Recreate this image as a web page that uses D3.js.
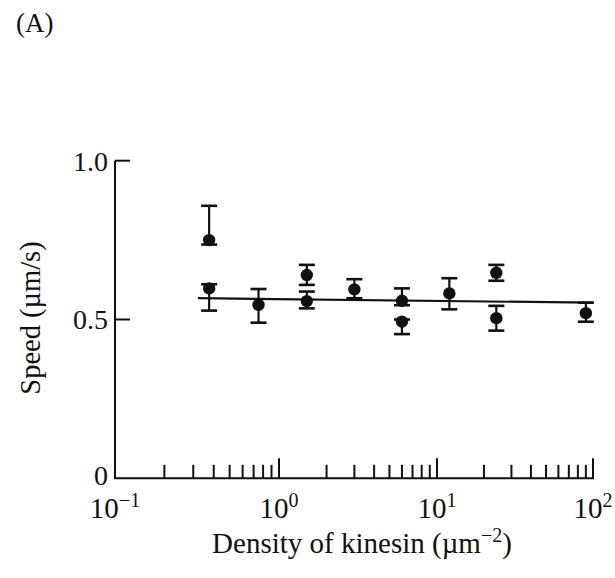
<!DOCTYPE html>
<html>
<head>
<meta charset="utf-8">
<script src="https://cdn.jsdelivr.net/npm/d3@7"></script>
<style>
  html, body { margin: 0; padding: 0; background: #fff; }
  svg { display: block; }
  text { font-family: "Liberation Serif", "DejaVu Serif", serif; fill: #111; }
</style>
</head>
<body>
<svg id="chart" width="615" height="578"></svg>
<script>
// ---- data ----
const density = [0.375, 0.375, 0.75, 1.5, 1.5, 3, 6, 6, 12, 24, 24, 90];
const speed   = [0.750, 0.598, 0.546, 0.640, 0.558, 0.595, 0.559, 0.493, 0.582, 0.647, 0.504, 0.520];
const errTop  = [0.858, 0.611, 0.596, 0.672, 0.588, 0.627, 0.598, 0.500, 0.630, 0.672, 0.543, 0.553];
const errBot  = [0.736, 0.528, 0.490, 0.609, 0.535, 0.567, 0.545, 0.454, 0.532, 0.622, 0.465, 0.493];
const fitX = [0.32, 100];
const fitY = [0.567, 0.553];
const xMajorTicks = [0.1, 1, 10, 100];
const xMajorExp = ["\u22121", "0", "1", "2"];
const xMinorTicks = [0.2,0.3,0.4,0.5,0.6,0.7,0.8,0.9, 2,3,4,5,6,7,8,9, 20,30,40,50,60,70,80,90];
const yTicks = [0, 0.5, 1.0];
const yTickLabels = ["0", "0.5", "1.0"];

const svg = d3.select("#chart");
const ink = "#111";

// scanned hand-drawn axis: decades are slightly uneven, so a piecewise log scale
const x = d3.scaleLog().domain([0.1, 1, 10, 100]).range([115, 279, 437, 593]);
const y = d3.scaleLinear().domain([0, 1]).range([478.3, 160.7]);

const g = svg.append("g");

// axes lines
g.append("line").attr("x1", x(0.1)).attr("x2", x(0.1)).attr("y1", y(1)).attr("y2", y(0) + 0.8)
  .attr("stroke", ink).attr("stroke-width", 2);
g.append("line").attr("x1", x(0.1)).attr("x2", x(100) + 1).attr("y1", y(0)).attr("y2", y(0))
  .attr("stroke", ink).attr("stroke-width", 2);

// y ticks (inward)
g.selectAll(".ytick").data(yTicks.filter(d => d > 0)).join("line")
  .attr("x1", x(0.1)).attr("x2", x(0.1) + 15)
  .attr("y1", d => y(d)).attr("y2", d => y(d))
  .attr("stroke", ink).attr("stroke-width", 2);

g.selectAll(".ylab").data(yTicks).join("text")
  .attr("x", 108).attr("y", d => y(d) - (d === 0 ? 3 : 0)).attr("dy", "0.35em")
  .attr("text-anchor", "end").attr("font-size", 28)
  .text((d, i) => yTickLabels[i]);

// x ticks (inward)
g.selectAll(".xminor").data(xMinorTicks).join("line")
  .attr("x1", d => x(d)).attr("x2", d => x(d))
  .attr("y1", y(0)).attr("y2", y(0) - 13.5)
  .attr("stroke", ink).attr("stroke-width", 2);
g.selectAll(".xmajor").data(xMajorTicks.slice(1)).join("line")
  .attr("x1", d => x(d)).attr("x2", d => x(d))
  .attr("y1", y(0)).attr("y2", y(0) - 20)
  .attr("stroke", ink).attr("stroke-width", 2);

const xl = g.selectAll(".xlab").data(xMajorTicks).join("text")
  .attr("x", d => x(d)).attr("y", 518)
  .attr("text-anchor", "middle").attr("font-size", 29);
xl.append("tspan").text("10");
xl.append("tspan").attr("font-size", 20).attr("dy", -11).text((d, i) => xMajorExp[i]);

// axis titles
const xt = g.append("text").attr("x", 362).attr("y", 553).attr("text-anchor", "middle").attr("font-size", 29);
xt.append("tspan").text("Density of kinesin (\u00b5m");
xt.append("tspan").attr("font-size", 20).attr("dy", -11).text("\u22122");
xt.append("tspan").attr("dy", 11).text(")");

g.append("text").attr("transform", "translate(40,318) rotate(-90)")
  .attr("text-anchor", "middle").attr("font-size", 28.5).text("Speed (\u00b5m/s)");

g.append("text").attr("x", 16).attr("y", 32).attr("font-size", 27).text("(A)");

// fit line
g.append("line")
  .attr("x1", x(fitX[0])).attr("x2", x(fitX[1]))
  .attr("y1", y(fitY[0])).attr("y2", y(fitY[1]))
  .attr("stroke", ink).attr("stroke-width", 2.2);

// error bars
const idx = d3.range(density.length);
const capW = 8;
g.selectAll(".stem").data(idx).join("line")
  .attr("x1", i => x(density[i])).attr("x2", i => x(density[i]))
  .attr("y1", i => y(errTop[i])).attr("y2", i => y(errBot[i]))
  .attr("stroke", ink).attr("stroke-width", 2.2);
g.selectAll(".capT").data(idx).join("line")
  .attr("x1", i => x(density[i]) - capW).attr("x2", i => x(density[i]) + capW)
  .attr("y1", i => y(errTop[i])).attr("y2", i => y(errTop[i]))
  .attr("stroke", ink).attr("stroke-width", 2.6);
g.selectAll(".capB").data(idx).join("line")
  .attr("x1", i => x(density[i]) - capW).attr("x2", i => x(density[i]) + capW)
  .attr("y1", i => y(errBot[i])).attr("y2", i => y(errBot[i]))
  .attr("stroke", ink).attr("stroke-width", 2.6);

// points
g.selectAll(".pt").data(idx).join("circle")
  .attr("cx", i => x(density[i])).attr("cy", i => y(speed[i]))
  .attr("r", 6.2).attr("fill", ink);
</script>
</body>
</html>
